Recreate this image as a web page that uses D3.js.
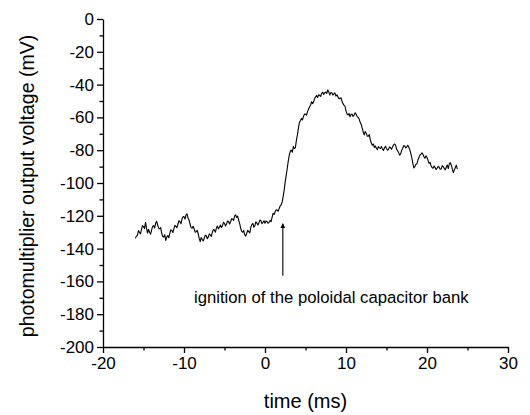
<!DOCTYPE html>
<meta charset="utf-8">
<head>
  <title>photomultiplier signal</title>
  <script src="https://d3js.org/d3.v7.min.js"></script>
  <style>
    body {
      margin: 0;
      background-color: white;
      font-family: Arial, "Liberation Sans", sans-serif;
    }
    .axis path, .axis line {
      stroke: black;
      stroke-width: 1.3px;
    }
    .axis text {
      font-family: Arial, "Liberation Sans", sans-serif;
      font-size: 17px;
      fill: black;
    }
    .trace {
      fill: none;
      stroke: black;
      stroke-width: 1.1px;
      stroke-linejoin: round;
    }
  </style>
</head>
<body>
<script>
  // time axis (ms) of the recorded trace, one row per ms
  var time = [
    -16, -15.875, -15.75, -15.625, -15.5, -15.375, -15.25, -15.125,
    -15, -14.875, -14.75, -14.625, -14.5, -14.375, -14.25, -14.125,
    -14, -13.875, -13.75, -13.625, -13.5, -13.375, -13.25, -13.125,
    -13, -12.875, -12.75, -12.625, -12.5, -12.375, -12.25, -12.125,
    -12, -11.875, -11.75, -11.625, -11.5, -11.375, -11.25, -11.125,
    -11, -10.875, -10.75, -10.625, -10.5, -10.375, -10.25, -10.125,
    -10, -9.875, -9.75, -9.625, -9.5, -9.375, -9.25, -9.125,
    -9, -8.875, -8.75, -8.625, -8.5, -8.375, -8.25, -8.125,
    -8, -7.875, -7.75, -7.625, -7.5, -7.375, -7.25, -7.125,
    -7, -6.875, -6.75, -6.625, -6.5, -6.375, -6.25, -6.125,
    -6, -5.875, -5.75, -5.625, -5.5, -5.375, -5.25, -5.125,
    -5, -4.875, -4.75, -4.625, -4.5, -4.375, -4.25, -4.125,
    -4, -3.875, -3.75, -3.625, -3.5, -3.375, -3.25, -3.125,
    -3, -2.875, -2.75, -2.625, -2.5, -2.375, -2.25, -2.125,
    -2, -1.875, -1.75, -1.625, -1.5, -1.375, -1.25, -1.125,
    -1, -0.875, -0.75, -0.625, -0.5, -0.375, -0.25, -0.125,
    0, 0.125, 0.25, 0.375, 0.5, 0.625, 0.75, 0.875,
    1, 1.125, 1.25, 1.375, 1.5, 1.625, 1.75, 1.875,
    2, 2.125, 2.25, 2.375, 2.5, 2.625, 2.75, 2.875,
    3, 3.125, 3.25, 3.375, 3.5, 3.625, 3.75, 3.875,
    4, 4.125, 4.25, 4.375, 4.5, 4.625, 4.75, 4.875,
    5, 5.125, 5.25, 5.375, 5.5, 5.625, 5.75, 5.875,
    6, 6.125, 6.25, 6.375, 6.5, 6.625, 6.75, 6.875,
    7, 7.125, 7.25, 7.375, 7.5, 7.625, 7.75, 7.875,
    8, 8.125, 8.25, 8.375, 8.5, 8.625, 8.75, 8.875,
    9, 9.125, 9.25, 9.375, 9.5, 9.625, 9.75, 9.875,
    10, 10.125, 10.25, 10.375, 10.5, 10.625, 10.75, 10.875,
    11, 11.125, 11.25, 11.375, 11.5, 11.625, 11.75, 11.875,
    12, 12.125, 12.25, 12.375, 12.5, 12.625, 12.75, 12.875,
    13, 13.125, 13.25, 13.375, 13.5, 13.625, 13.75, 13.875,
    14, 14.125, 14.25, 14.375, 14.5, 14.625, 14.75, 14.875,
    15, 15.125, 15.25, 15.375, 15.5, 15.625, 15.75, 15.875,
    16, 16.125, 16.25, 16.375, 16.5, 16.625, 16.75, 16.875,
    17, 17.125, 17.25, 17.375, 17.5, 17.625, 17.75, 17.875,
    18, 18.125, 18.25, 18.375, 18.5, 18.625, 18.75, 18.875,
    19, 19.125, 19.25, 19.375, 19.5, 19.625, 19.75, 19.875,
    20, 20.125, 20.25, 20.375, 20.5, 20.625, 20.75, 20.875,
    21, 21.125, 21.25, 21.375, 21.5, 21.625, 21.75, 21.875,
    22, 22.125, 22.25, 22.375, 22.5, 22.625, 22.75, 22.875,
    23, 23.125, 23.25, 23.375, 23.5, 23.625, 23.75
  ];

  // photomultiplier output voltage (mV), same rows as time
  var voltage = [
    -133.7, -132.4, -132.0, -129.0, -130.0, -131.0, -128.5, -126.0,
    -126.6, -127.8, -124.0, -127.5, -130.5, -128.2, -130.0, -131.2,
    -128.7, -126.5, -126.0, -127.4, -124.5, -123.4, -125.6, -127.5,
    -128.0, -127.2, -130.7, -132.6, -133.0, -131.5, -135.0, -133.0,
    -132.0, -133.4, -130.7, -128.6, -129.0, -130.2, -128.0, -125.8,
    -126.5, -127.3, -125.0, -123.0, -123.6, -124.8, -122.0, -120.6,
    -120.5, -122.0, -119.5, -118.8, -121.5, -122.6, -125.0, -127.2,
    -127.6, -126.4, -128.0, -130.0, -129.7, -128.8, -131.0, -133.8,
    -135.8, -133.2, -134.5, -135.4, -133.7, -131.8, -132.0, -134.0,
    -133.0, -131.0, -131.7, -132.6, -130.0, -128.4, -128.7, -130.0,
    -127.5, -126.2, -128.0, -127.0, -125.6, -127.2, -126.0, -124.0,
    -124.6, -126.2, -125.0, -123.2, -123.5, -125.0, -123.6, -121.8,
    -122.0, -122.8, -120.0, -119.4, -121.0, -120.2, -122.6, -124.8,
    -127.6, -129.5, -130.0, -129.0, -131.7, -132.4, -130.5, -128.8,
    -129.7, -130.4, -127.0, -125.4, -124.6, -127.0, -126.0, -123.6,
    -124.5, -125.6, -124.2, -122.6, -123.0, -124.8, -124.0, -123.0,
    -124.5, -123.2, -123.5, -124.6, -124.0, -122.8, -123.6, -121.0,
    -118.5, -119.2, -117.5, -116.4, -116.5, -117.2, -115.5, -114.0,
    -113.4, -111.5, -108.0, -104.0, -99.0, -95.0, -91.0, -86.5,
    -83.0, -80.5, -80.0, -81.2, -77.8, -79.0, -78.5, -74.0,
    -70.7, -66.5, -63.0, -62.0, -60.6, -61.5, -59.5, -58.0,
    -58.0, -58.6, -56.5, -55.0, -53.5, -52.6, -50.4, -51.6,
    -50.5, -48.5, -47.5, -46.6, -47.8, -46.2, -46.5, -47.2,
    -45.3, -44.6, -46.0, -45.0, -44.5, -45.4, -43.3, -44.4,
    -46.3, -44.8, -45.0, -46.4, -45.7, -45.0, -47.0, -46.2,
    -47.4, -48.6, -48.4, -48.0, -50.0, -51.6, -52.5, -53.2,
    -56.0, -57.8, -58.5, -57.6, -59.6, -58.2, -58.0, -59.4,
    -58.5, -57.2, -58.0, -59.5, -60.0, -61.0, -63.0, -64.2,
    -66.5, -68.8, -70.7, -68.6, -69.7, -71.4, -71.5, -70.4,
    -73.5, -75.6, -77.0, -76.2, -78.3, -77.4, -78.8, -79.6,
    -77.8, -78.6, -79.0, -77.8, -79.3, -80.2, -78.5, -77.6,
    -79.0, -80.0, -79.5, -78.0, -78.5, -79.4, -77.8, -76.8,
    -76.2, -77.0, -79.5, -80.2, -81.5, -83.0, -82.3, -80.0,
    -78.8, -77.2, -77.4, -78.6, -78.0, -77.0, -78.2, -79.6,
    -81.9, -84.5, -88.0, -90.8, -90.0, -88.6, -88.4, -86.0,
    -84.5, -83.0, -82.5, -81.6, -82.5, -84.0, -84.9, -83.4,
    -84.4, -86.2, -88.0, -87.4, -89.5, -90.6, -91.0, -89.6,
    -90.5, -91.8, -91.0, -89.8, -90.4, -91.6, -91.5, -89.4,
    -90.0, -91.0, -92.0, -90.4, -89.0, -91.2, -88.5, -87.6,
    -89.0, -91.6, -93.7, -92.0, -90.5, -89.2, -91.5
  ];

  var xMajor = [-20, -10, 0, 10, 20, 30];
  var xMinor = [-15, -5, 5, 15, 25];
  var yMajor = [0, -20, -40, -60, -80, -100, -120, -140, -160, -180, -200];
  var yMinor = [-10, -30, -50, -70, -90, -110, -130, -150, -170, -190];

  // annotation arrow: time and voltage of its foot and tip
  var arrowTime = 2.2;
  var arrowFrom = -156.5;
  var arrowTo = -124.8;
  var arrowLabel = "ignition of the poloidal capacitor bank";

  var width = 530, height = 415;

  var svg = d3.select("body").append("svg")
    .attr("width", width)
    .attr("height", height);

  var x = d3.scaleLinear().domain([-20, 30]).range([103, 508]);
  var y = d3.scaleLinear().domain([-200, 0]).range([347, 19]);

  // plain hyphen minus like the original plot
  var fmt = function(d) { return String(d); };

  // minor ticks first, majors on top
  svg.append("g")
    .attr("class", "axis")
    .attr("transform", "translate(0," + y(-200) + ")")
    .call(d3.axisBottom(x).tickValues(xMinor).tickSize(3.5).tickFormat(""))
    .select(".domain").remove();

  svg.append("g")
    .attr("class", "axis")
    .attr("transform", "translate(0," + y(-200) + ")")
    .call(d3.axisBottom(x).tickValues(xMajor).tickFormat(fmt).tickSize(6).tickSizeOuter(0).tickPadding(4));

  svg.append("g")
    .attr("class", "axis")
    .attr("transform", "translate(" + x(-20) + ",0)")
    .call(d3.axisLeft(y).tickValues(yMinor).tickSize(3.5).tickFormat(""))
    .select(".domain").remove();

  svg.append("g")
    .attr("class", "axis")
    .attr("transform", "translate(" + x(-20) + ",0)")
    .call(d3.axisLeft(y).tickValues(yMajor).tickFormat(fmt).tickSize(6).tickSizeOuter(0).tickPadding(3));

  var line = d3.line()
    .x(function(d, i) { return x(time[i]); })
    .y(function(d) { return y(d); });

  svg.append("path")
    .datum(voltage)
    .attr("class", "trace")
    .attr("d", line);

  svg.append("defs").append("marker")
    .attr("id", "head")
    .attr("viewBox", "0 0 10 10")
    .attr("refX", 9)
    .attr("refY", 5)
    .attr("markerWidth", 5)
    .attr("markerHeight", 7)
    .attr("markerUnits", "userSpaceOnUse")
    .attr("orient", "auto")
    .append("path")
    .attr("d", "M0,0L10,5L0,10Z")
    .attr("fill", "black");

  svg.append("line")
    .attr("x1", x(arrowTime))
    .attr("x2", x(arrowTime))
    .attr("y1", y(arrowFrom))
    .attr("y2", y(arrowTo))
    .attr("stroke", "black")
    .attr("stroke-width", 1.1)
    .attr("marker-end", "url(#head)");

  svg.append("text")
    .attr("x", 194)
    .attr("y", 303)
    .attr("font-size", "16.7px")
    .text(arrowLabel);

  // axis titles
  svg.append("text")
    .attr("x", (x(-20) + x(30)) / 2)
    .attr("y", 408)
    .attr("text-anchor", "middle")
    .attr("font-size", "20px")
    .text("time (ms)");

  svg.append("text")
    .attr("transform", "translate(34," + 186 + ") rotate(-90)")
    .attr("text-anchor", "middle")
    .attr("font-size", "19.5px")
    .text("photomultiplier output voltage (mV)");
</script>
</body>
</html>
